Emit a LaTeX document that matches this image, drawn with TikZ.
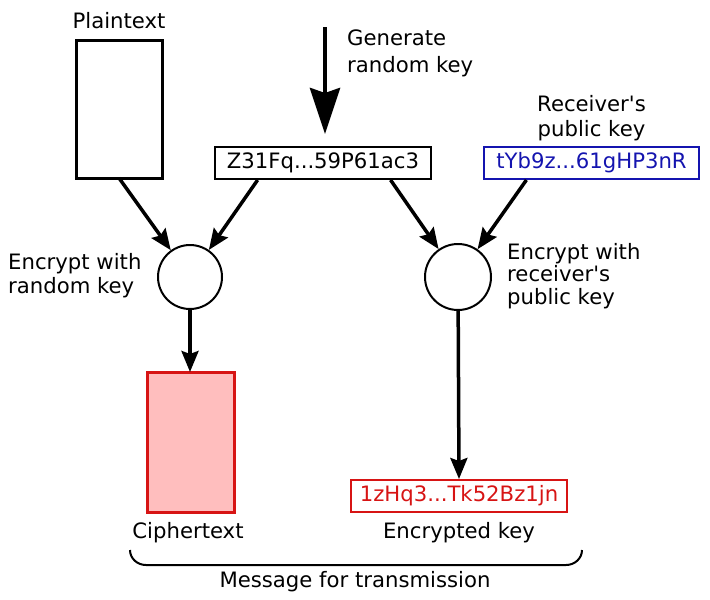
\documentclass[tikz,border=0pt]{standalone}
\usepackage{fontspec}
\setmainfont{DejaVu Sans}
\usetikzlibrary{arrows.meta,calc}
\definecolor{keyblue}{RGB}{20,20,175}
\definecolor{keyred}{RGB}{215,20,20}
\definecolor{cipherfill}{RGB}{255,190,190}
\begin{document}
\begin{tikzpicture}[x=1pt,y=-1pt,
  lbl/.style={inner sep=0pt,font=\fontsize{21.2}{25}\selectfont},
  keybox/.style={draw,line width=2pt,minimum width=216pt,minimum height=32pt,inner sep=0pt,font=\fontsize{21.2}{25}\selectfont},
  docbox/.style={draw,line width=3pt},
  proc/.style={draw,circle,line width=2pt,minimum size=64pt,inner sep=0pt},
  flow/.style={line width=3.5pt,-{Stealth[length=21pt,width=17pt,inset=3pt]}},
  bigflow/.style={line width=4.5pt,-{Stealth[length=46pt,width=30pt,inset=5pt]}}]
\useasboundingbox (0,0) rectangle (710,600);
% documents
\draw[docbox] (76,40) rectangle (162,178);
\coordinate (plainbot) at (119,178);
\node[lbl,anchor=base] (plainlbl) at (119,28) {Plaintext};
% random key
\node[keybox] (key) at (323,163) {Z31Fq...59P61ac3};
\coordinate (gen) at (325,27);
\draw[bigflow,shorten >=12pt] (gen) -- (gen |- key.north);
\node[lbl,anchor=north west,align=left,font=\fontsize{21.2}{27}\selectfont] (genlbl) at (347,29.5) {Generate\\random key};
% public key
\node[keybox,draw=keyblue,text=keyblue,minimum width=215pt] (pub) at (591.5,163) {tYb9z...61gHP3nR};
\node[lbl,anchor=north,align=center,font=\fontsize{21.2}{25}\selectfont] (publbl) at (591.5,94.7) {Receiver\textquotesingle s\\public key};
% processes
\node[proc] (lc) at (190,277) {};
\node[proc,minimum size=66pt] (rc) at (458,277) {};
\node[lbl,anchor=north west,align=left,font=\fontsize{21.2}{24}\selectfont] (lclbl) at (8,253) {Encrypt with\\random key};
\node[lbl,anchor=north west,align=left,font=\fontsize{21.2}{22.5}\selectfont] (rclbl) at (507,243) {Encrypt with\\receiver\textquotesingle s\\public key};
% connectors
\draw[flow] (plainbot) -- (lc);
\draw[flow] ($(key.south west)!0.2!(key.south east)$) -- (lc);
\draw[flow] ($(key.south west)!0.81!(key.south east)$) -- (rc);
\draw[flow] ($(pub.south west)!0.2!(pub.south east)$) -- (rc);
% ciphertext
\draw[line width=3pt,draw=keyred,fill=cipherfill] (147,372) rectangle (234,512);
\coordinate (ciphtop) at (190,372);
\draw[flow] (lc) -- (ciphtop);
\node[lbl,anchor=base] (ciphlbl) at (188,538) {Ciphertext};
% encrypted key
\node[keybox,draw=keyred,text=keyred] (enc) at (459,496) {1zHq3...Tk52Bz1jn};
\draw[flow] (rc) -- (enc.north);
\node[lbl,anchor=base] (enclbl) at (459,538) {Encrypted key};
% brace
\draw[line width=2pt] (130,550) to[out=-90,in=180] (146,565) -- (566,565) to[out=0,in=-90] (582,550);
\node[lbl,anchor=base] (msg) at (355,587) {Message for transmission};
\end{tikzpicture}
\end{document}
